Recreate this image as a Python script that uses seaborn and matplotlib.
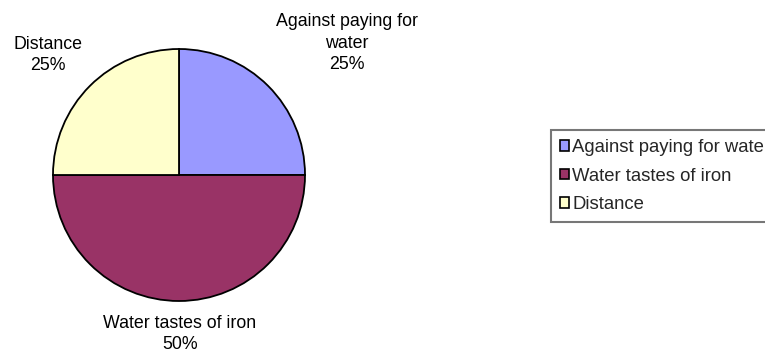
import matplotlib
matplotlib.use("Agg")
import matplotlib.pyplot as plt
import seaborn as sns

categories = ["Against paying for water", "Water tastes of iron", "Distance"]
values = [25, 50, 25]
pie_labels = ["Against paying for\nwater\n25%", "Water tastes of iron\n50%", "Distance\n25%"]
colors = ["#9999FF", "#993366", "#FFFFCC"]

sns.set_theme(style="white")
plt.rcParams['font.family'] = ['Liberation Sans', 'DejaVu Sans']

W, H = 765, 354
fig = plt.figure(figsize=(W / 100, H / 100), dpi=100)
fig.patch.set_facecolor("white")

cx, cy, r = 179, 175, 126
ax = fig.add_axes([(cx - r) / W, (H - cy - r) / H, 2 * r / W, 2 * r / H])
palette = sns.color_palette(colors)
wedges, _ = ax.pie(values, colors=palette, startangle=90, counterclock=False,
                   wedgeprops=dict(edgecolor="black", linewidth=1.3))
ax.set_xlim(-1, 1)
ax.set_ylim(-1, 1)
ax.set_aspect("equal")
ax.axis("off")

FS = 12.8
# label centre positions in pixels (from top-left)
label_pos = [(347, 43), (180, 334), (48, 55)]
for lab, (px, py) in zip(pie_labels, label_pos):
    fig.text(px / W, 1 - py / H, lab, ha="center", va="center", fontsize=FS,
             color="black", linespacing=1.35)

leg = fig.legend(wedges, categories, loc="upper left",
                 bbox_to_anchor=(551 / W, 1 - 130 / H), borderaxespad=0,
                 fontsize=13.3, frameon=True, fancybox=False, shadow=False,
                 handlelength=0.5, handleheight=0.5, handletextpad=0.15,
                 labelspacing=0.62, borderpad=0.5)
leg.get_frame().set_edgecolor("#555555")
leg.get_frame().set_linewidth(1.5)
for h in leg.legend_handles:
    h.set_edgecolor("black")
    h.set_linewidth(1.2)

fig.savefig("out.png", dpi=100)
